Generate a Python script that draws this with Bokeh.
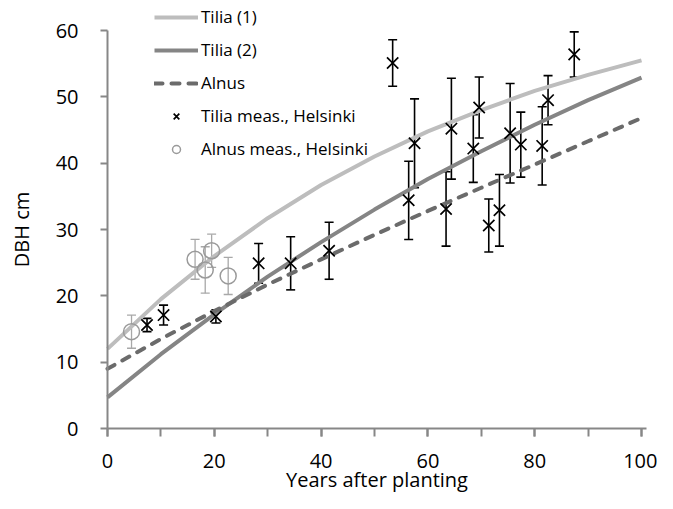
from bokeh.plotting import figure
from bokeh.models import (ColumnDataSource, Whisker, TeeHead, Legend, LegendItem,
                          SingleIntervalTicker, Range1d)
from bokeh.embed import file_html
from bokeh.resources import INLINE

# ---- data ----
years = [0, 10, 20, 30, 40, 50, 60, 70, 80, 90, 100]
tilia1 = [12.0, 19.5, 26.0, 31.7, 36.7, 41.0, 44.8, 48.0, 50.9, 53.3, 55.5]
tilia2 = [4.7, 11.2, 17.2, 22.9, 28.1, 33.0, 37.6, 41.8, 45.8, 49.5, 52.9]
alnus = [9.0, 13.5, 17.7, 21.7, 25.5, 29.2, 32.8, 36.3, 39.8, 43.3, 46.8]

tilia_meas_x = [7.4, 10.5, 20.3, 28.3, 34.3, 41.5, 53.4, 56.4, 57.5, 63.4,
                64.4, 68.5, 69.6, 71.4, 73.4, 75.4, 77.4, 81.4, 82.5, 87.4]
tilia_meas_y = [15.6, 17.1, 16.9, 24.9, 24.9, 26.8, 55.1, 34.4, 43.0, 33.1,
                45.2, 42.2, 48.4, 30.6, 32.9, 44.5, 42.8, 42.6, 49.5, 56.4]
tilia_meas_err = [1.0, 1.5, 1.0, 3.0, 4.0, 4.3, 3.5, 5.9, 6.7, 5.6,
                  7.6, 5.1, 4.6, 4.0, 5.4, 7.5, 4.9, 5.9, 3.7, 3.4]

alnus_meas_x = [4.5, 16.4, 18.3, 19.5, 22.6]
alnus_meas_y = [14.6, 25.5, 23.9, 26.8, 23.0]
alnus_meas_err = [2.5, 3.0, 3.5, 2.5, 2.8]

x_axis_bounds = (0, 101)
y_axis_bounds = (0, 60)
x_ticks_interval = 20
y_ticks_interval = 10

FONT = "Open Sans"

W, H = 657, 493
# frame covers the whole canvas; axes are pinned at x=0 / y=0
p = figure(width=W, height=H, output_backend="svg", toolbar_location=None,
           x_range=Range1d(-20.037, 102.996), y_range=Range1d(-9.799, 64.523),
           min_border_left=0, min_border_right=0, min_border_top=0,
           min_border_bottom=0)
p.outline_line_color = None
p.xgrid.visible = False
p.ygrid.visible = False
p.background_fill_color = "white"

c1 = p.line(years, tilia1, line_color="#bdbdbd", line_width=4)
c2 = p.line(years, tilia2, line_color="#858585", line_width=4)
c3 = p.line(years, alnus, line_color="#6b6b6b", line_width=4,
            line_dash="8 9", line_cap="round")

tsrc = ColumnDataSource(dict(
    x=tilia_meas_x, y=tilia_meas_y,
    lo=[a - b for a, b in zip(tilia_meas_y, tilia_meas_err)],
    hi=[a + b for a, b in zip(tilia_meas_y, tilia_meas_err)]))
asrc = ColumnDataSource(dict(
    x=alnus_meas_x, y=alnus_meas_y,
    lo=[a - b for a, b in zip(alnus_meas_y, alnus_meas_err)],
    hi=[a + b for a, b in zip(alnus_meas_y, alnus_meas_err)]))

p.add_layout(Whisker(source=asrc, base="x", lower="lo", upper="hi",
                     line_color="#a8a8a8", line_width=1.3,
                     upper_head=TeeHead(size=9, line_color="#a8a8a8", line_width=1.3),
                     lower_head=TeeHead(size=9, line_color="#a8a8a8", line_width=1.3)))
p.add_layout(Whisker(source=tsrc, base="x", lower="lo", upper="hi",
                     line_color="black", line_width=1.6,
                     upper_head=TeeHead(size=9, line_color="black", line_width=1.6),
                     lower_head=TeeHead(size=9, line_color="black", line_width=1.6)))

m2 = p.scatter("x", "y", source=asrc, marker="circle", size=16,
               fill_color=None, line_color="#9a9a9a", line_width=1.5)
m1 = p.scatter("x", "y", source=tsrc, marker="x", size=16,
               line_color="black", line_width=1.7)

legend = Legend(items=[
    LegendItem(label="Tilia (1)", renderers=[c1]),
    LegendItem(label="Tilia (2)", renderers=[c2]),
    LegendItem(label="Alnus", renderers=[c3]),
    LegendItem(label="Tilia meas., Helsinki", renderers=[m1]),
    LegendItem(label="Alnus meas., Helsinki", renderers=[m2]),
], location=(154, 333))
legend.background_fill_alpha = 0
legend.border_line_alpha = 0
legend.padding = 0
legend.margin = 0
legend.spacing = 10
legend.glyph_width = 44
legend.glyph_height = 20
legend.label_height = 20
legend.label_standoff = 3
legend.label_text_font = FONT
legend.label_text_font_size = "17px"
legend.label_text_color = "black"
p.add_layout(legend)

for ax in (p.xaxis[0], p.yaxis[0]):
    ax.axis_line_color = "#878787"
    ax.axis_line_width = 2
    ax.major_tick_line_color = "#878787"
    ax.major_tick_line_width = 2
    ax.minor_tick_line_color = "#878787"
    ax.minor_tick_line_width = 2
    ax.major_tick_in = 0
    ax.minor_tick_in = 0
    ax.major_label_text_font = FONT
    ax.major_label_text_font_size = "20px"
    ax.major_label_text_color = "black"
    ax.axis_label_text_font = FONT
    ax.axis_label_text_font_size = "20px"
    ax.axis_label_text_font_style = "normal"
    ax.axis_label_text_color = "black"

p.xaxis.fixed_location = 0
p.xaxis.bounds = x_axis_bounds
p.xaxis.ticker = SingleIntervalTicker(interval=x_ticks_interval, num_minor_ticks=2)
p.xaxis.major_tick_out = 8
p.xaxis.minor_tick_out = 8
p.xaxis.major_label_standoff = 17
p.xaxis.axis_label = "Years after planting"
p.xaxis.axis_label_standoff = -5

p.yaxis.fixed_location = 0
p.yaxis.bounds = y_axis_bounds
p.yaxis.ticker = SingleIntervalTicker(interval=y_ticks_interval, num_minor_ticks=0)
p.yaxis.major_tick_out = 7
p.yaxis.minor_tick_out = 0
p.yaxis.major_label_standoff = 22
p.yaxis.axis_label = "DBH cm"
p.yaxis.axis_label_standoff = 18

open("out.html", "w").write(file_html(p, INLINE))
